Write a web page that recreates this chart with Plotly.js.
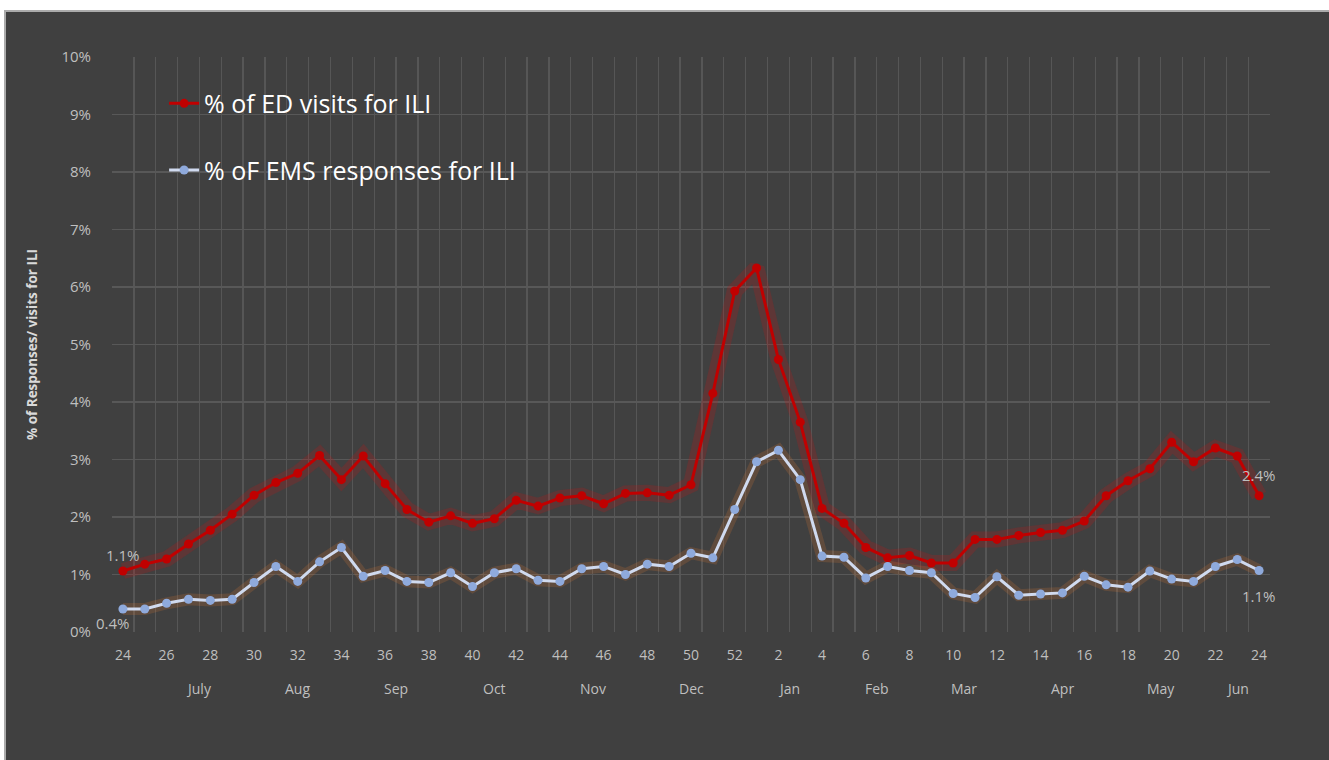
<!DOCTYPE html>
<html>
<head>
<meta charset="utf-8">
<script src="https://cdn.plot.ly/plotly-3.0.1.min.js"></script>
<style>
  html, body { margin: 0; padding: 0; background: #ffffff; width: 1329px; height: 760px; overflow: hidden; }
  #chart { position: absolute; left: 4px; top: 10px; width: 1323px; height: 748px;
           border-top: 2px solid #ABABAB; border-left: 2px solid #ABABAB; background: #404040; }
</style>
</head>
<body>
<div id="chart"></div>
<script>
// Week numbers (July of one year through June of the next)
const weeks = [24,25,26,27,28,29,30,31,32,33,34,35,36,37,38,39,40,41,42,43,44,45,46,47,48,49,50,51,52,
               1,2,3,4,5,6,7,8,9,10,11,12,13,14,15,16,17,18,19,20,21,22,23,24];
// % of ED visits for ILI
const edVisits = [1.06,1.18,1.27,1.53,1.77,2.05,2.38,2.60,2.76,3.07,2.65,3.06,2.58,2.13,1.91,2.02,1.89,1.97,2.29,2.19,
                  2.33,2.37,2.23,2.41,2.42,2.38,2.56,4.15,5.93,6.33,4.74,3.65,2.15,1.89,1.47,1.29,1.33,1.20,1.20,1.61,
                  1.61,1.68,1.73,1.77,1.93,2.37,2.63,2.84,3.30,2.96,3.20,3.06,2.37];
// % of EMS responses for ILI
const emsResponses = [0.40,0.40,0.50,0.57,0.55,0.57,0.86,1.14,0.88,1.22,1.47,0.97,1.07,0.88,0.86,1.03,0.79,1.03,1.10,0.90,
                      0.88,1.10,1.14,1.00,1.18,1.14,1.37,1.29,2.13,2.96,3.16,2.65,1.32,1.30,0.94,1.14,1.07,1.03,0.67,0.60,
                      0.96,0.64,0.66,0.68,0.97,0.82,0.78,1.06,0.92,0.88,1.14,1.26,1.07];
// Month labels and the week index where each sits
const months = ['July','Aug','Sep','Oct','Nov','Dec','Jan','Feb','Mar','Apr','May','Jun'];
const monthAt = [3.5, 8, 12.5, 17, 21.5, 26, 30.5, 34.5, 38.5, 43, 47.5, 51];
const seriesNames = ['% of ED visits for ILI', '% oF EMS responses for ILI'];

const idx = weeks.map((w, i) => i);
const tickIdx = idx.filter(i => i % 2 === 0);
const tickTxt = tickIdx.map(i => String(weeks[i]));

const FONT = '"Open Sans", sans-serif';
const last = weeks.length - 1;

const traces = [
  { x: idx, y: edVisits, mode: 'lines', line: {color: 'rgba(200,20,20,0.22)', width: 16},
    showlegend: false, hoverinfo: 'skip' },
  { x: idx, y: emsResponses, mode: 'lines', line: {color: 'rgba(237,125,49,0.18)', width: 12},
    showlegend: false, hoverinfo: 'skip' },
  { x: idx, y: edVisits, name: seriesNames[0], mode: 'lines+markers',
    line: {color: '#C00000', width: 3}, marker: {color: '#C00000', size: 9}, legend: 'legend' },
  { x: idx, y: emsResponses, name: seriesNames[1], mode: 'lines+markers',
    line: {color: '#D0DAEF', width: 3}, marker: {color: '#8FAADC', size: 9}, legend: 'legend2' }
];

const annotations = months.map((m, k) => ({
  x: monthAt[k], y: -0.098, xref: 'x', yref: 'paper', text: m, showarrow: false,
  font: {family: FONT, size: 14, color: '#BFBFBF'}, yanchor: 'middle'
}));
const lbl = (i, arr, xs, ys) => ({
  x: i, y: arr[i], xref: 'x', yref: 'y', text: arr[i].toFixed(1) + '%', showarrow: false,
  xshift: xs, yshift: ys, font: {family: FONT, size: 15, color: '#BFBFBF'}
});
annotations.push(lbl(0, edVisits, 0, 16));
annotations.push(lbl(0, emsResponses, -10, -14));
annotations.push(lbl(last, edVisits, 0, 21));
annotations.push(lbl(last, emsResponses, 0, -26));

const layout = {
  width: 1323, height: 748,
  paper_bgcolor: '#404040', plot_bgcolor: '#404040',
  margin: {l: 106, r: 59, t: 45, b: 128},
  font: {family: FONT, color: '#BFBFBF'},
  xaxis: {
    range: [-0.5, last + 0.5], tickmode: 'array', tickvals: tickIdx, ticktext: tickTxt,
    showgrid: false, zeroline: false, showline: false, ticks: '',
    ticklabelstandoff: 13,
    tickfont: {family: FONT, size: 14, color: '#BFBFBF'},
    minor: {tickmode: 'linear', tick0: -0.5, dtick: 1, showgrid: true, gridcolor: '#565656', gridwidth: 1.3, ticks: ''}
  },
  yaxis: {
    range: [0, 10], dtick: 1, ticksuffix: '%', showgrid: true, gridcolor: '#585858', gridwidth: 1.3,
    zeroline: false, showline: false, ticks: '', ticklabelstandoff: 20,
    tickfont: {family: FONT, size: 15, color: '#BFBFBF'},
    title: {text: '<b>% of Responses/ visits for ILI</b>', font: {family: FONT, size: 13.5, color: '#D9D9D9'}, standoff: 20}
  },
  legend: {x: 0.045, y: 0.919, xanchor: 'left', yanchor: 'middle', bgcolor: 'rgba(0,0,0,0)',
           font: {family: FONT, size: 25, color: '#FFFFFF'}},
  legend2: {x: 0.045, y: 0.803, xanchor: 'left', yanchor: 'middle', bgcolor: 'rgba(0,0,0,0)',
            font: {family: FONT, size: 25, color: '#FFFFFF'}},
  annotations: annotations,
  showlegend: true
};

Plotly.newPlot('chart', traces, layout, {displayModeBar: false, staticPlot: true});
</script>
</body>
</html>
